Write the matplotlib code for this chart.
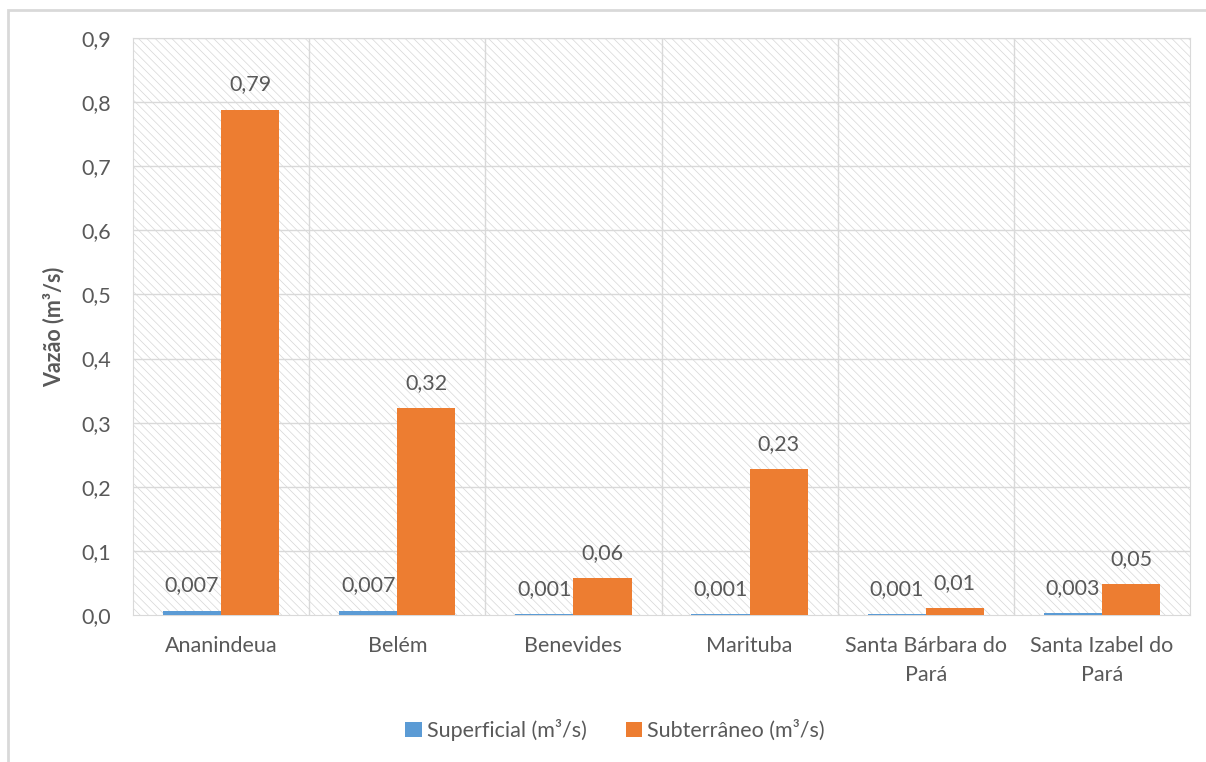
import matplotlib.pyplot as plt
from matplotlib.patches import Rectangle
import numpy as np

plt.rcParams['font.family'] = ['Lato', 'DejaVu Sans']
plt.rcParams['hatch.linewidth'] = 0.5
plt.rcParams['hatch.color'] = '#d6d6d6'

municipios = ["Ananindeua", "Belém", "Benevides", "Marituba",
              "Santa Bárbara do\nPará", "Santa Izabel do\nPará"]
superficial = [0.007, 0.007, 0.001, 0.001, 0.001, 0.003]
subterraneo = [0.788, 0.323, 0.057, 0.227, 0.011, 0.048]
rotulos_sup = ["0,007", "0,007", "0,001", "0,001", "0,001", "0,003"]
rotulos_sub = ["0,79", "0,32", "0,06", "0,23", "0,01", "0,05"]
yticks = np.arange(0, 0.91, 0.1)

cinza = '#595959'
azul = '#5b9bd5'
laranja = '#ed7d31'
fs = 15.5

W, H = 1206, 762
fig = plt.figure(figsize=(W / 100, H / 100), dpi=100)
ax = fig.add_axes([133 / W, 1 - 615 / H, (1190 - 133) / W, (615 - 38) / H])

# outer chart border
fig.patches.append(Rectangle((8 / W, -0.05), 1.1, 1 - 10 / H + 0.05,
                             transform=fig.transFigure, fill=False,
                             edgecolor='#d9d9d9', linewidth=2))

# hatched plot background
ax.set_facecolor('white')
ax.add_patch(Rectangle((0, 0), 1, 1, transform=ax.transAxes, facecolor='none',
                       hatch='\\\\\\\\', edgecolor='#d6d6d6', linewidth=0, zorder=0))

x = np.arange(len(municipios))
w = 0.33
b1 = ax.bar(x - w / 2, superficial, w, color=azul, zorder=3, label="Superficial (m³/s)")
b2 = ax.bar(x + w / 2, subterraneo, w, color=laranja, zorder=3, label="Subterrâneo (m³/s)")

for i in range(len(x)):
    ax.annotate(rotulos_sup[i], (x[i] - w / 2, superficial[i]), xytext=(0, 11),
                textcoords='offset points', ha='center', va='bottom',
                fontsize=fs, color=cinza, zorder=4)
    ax.annotate(rotulos_sub[i], (x[i] + w / 2, subterraneo[i]), xytext=(0, 11),
                textcoords='offset points', ha='center', va='bottom',
                fontsize=fs, color=cinza, zorder=4)

ax.set_xlim(-0.5, len(municipios) - 0.5)
ax.set_ylim(0, 0.9)
ax.set_yticks(yticks)
ax.set_yticklabels([f"{v:.1f}".replace('.', ',') for v in yticks])
ax.set_xticks(x)
ax.set_xticklabels(municipios, linespacing=1.6)
ax.tick_params(axis='both', length=0, labelsize=fs, colors=cinza)
ax.tick_params(axis='y', pad=16)
ax.tick_params(axis='x', pad=15)

# grid lines
for v in yticks[1:]:
    ax.axhline(v, color='#d9d9d9', linewidth=1, zorder=1)
for xv in np.arange(0.5, len(municipios) - 0.5, 1):
    ax.axvline(xv, color='#d9d9d9', linewidth=1, zorder=1)

for s in ['top', 'right', 'left', 'bottom']:
    ax.spines[s].set_color('#d9d9d9')

ax.set_ylabel("Vazão (m³/s)", fontsize=fs, color=cinza, fontweight='bold', labelpad=12)

fig.legend(handles=[b1, b2], loc='center', bbox_to_anchor=(0.51, 1 - 730 / H), ncol=2,
           frameon=False, fontsize=fs, labelcolor=cinza, handlelength=0.75,
           handleheight=0.75, handletextpad=0.25, columnspacing=1.8)

fig.savefig("out.png", dpi=100)
